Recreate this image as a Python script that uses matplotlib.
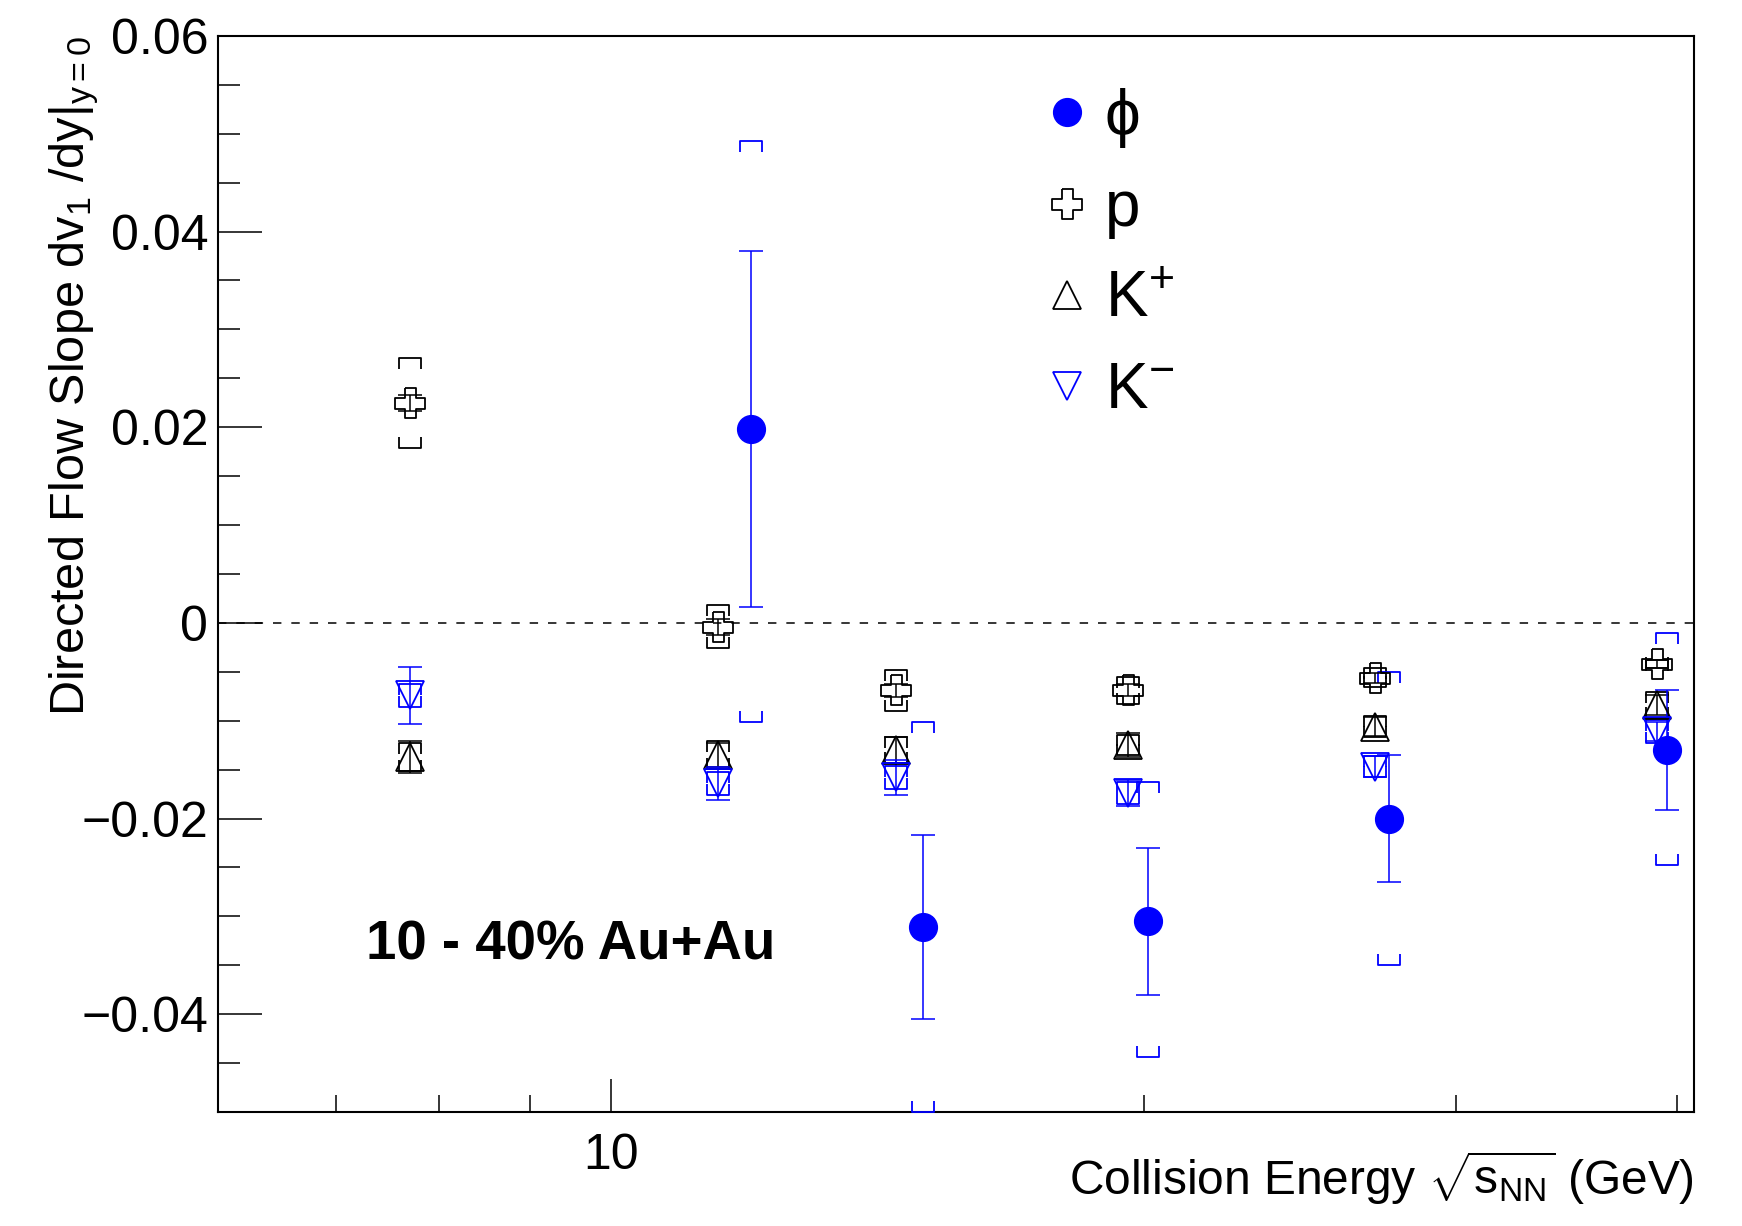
import numpy as np
import matplotlib
matplotlib.use('Agg')
import matplotlib.pyplot as plt
from matplotlib.path import Path

plt.rcParams['font.family'] = ['Liberation Sans', 'DejaVu Sans']
plt.rcParams['mathtext.fontset'] = 'custom'
plt.rcParams['mathtext.rm'] = 'Liberation Sans'
plt.rcParams['mathtext.it'] = 'Liberation Sans:italic'
plt.rcParams['mathtext.bf'] = 'Liberation Sans:bold'

# collision energies (GeV); phi points are drawn slightly shifted in x
energies = [7.7, 11.5, 14.5, 19.6, 27.0, 39.0]
phi_energies = [12.0, 15.0, 20.1, 27.5, 39.5]

# dv1/dy slopes
phi_v1 = [0.0198, -0.0311, -0.0305, -0.0200, -0.0130]
phi_stat = [0.0182, 0.0094, 0.0075, 0.0065, 0.0061]
phi_sys_hi = [0.0295, 0.0210, 0.0142, 0.0150, 0.0120]
phi_sys_lo = [0.0299, 0.0189, 0.0139, 0.0150, 0.0118]

p_v1 = [0.0225, -0.0004, -0.0069, -0.0069, -0.0056, -0.0042]
p_stat = [0.0008, 0.0008, 0.0007, 0.0006, 0.0005, 0.0004]
p_sys = [0.0046, 0.0022, 0.0021, 0.0014, 0.0010, 0.0004]

kp_v1 = [-0.0137, -0.0135, -0.0130, -0.0125, -0.0106, -0.0084]
kp_stat = [0.0016, 0.0012, 0.0013, 0.0012, 0.0010, 0.0010]
kp_sys = [0.0014, 0.0014, 0.0013, 0.0010, 0.0011, 0.0013]

km_v1 = [-0.0074, -0.0164, -0.0158, -0.0174, -0.0147, -0.0111]
km_stat = [0.0029, 0.0017, 0.0018, 0.0013, 0.0011, 0.0010]
km_sys = [0.0012, 0.0012, 0.0012, 0.0011, 0.0011, 0.0012]

ytick_vals = [-0.04, -0.02, 0.0, 0.02, 0.04, 0.06]
ytick_labels = ['\u22120.04', '\u22120.02', '0', '0.02', '0.04', '0.06']

BLUE = '#0000ff'

# ROOT-like marker shapes
bracket_top = Path([(-1, -1), (-1, 0), (1, 0), (1, -1)],
                   [Path.MOVETO, Path.LINETO, Path.LINETO, Path.LINETO])
bracket_bot = Path([(-1, 1), (-1, 0), (1, 0), (1, 1)],
                   [Path.MOVETO, Path.LINETO, Path.LINETO, Path.LINETO])
a = 0.36
open_cross = Path([(-a, 1), (a, 1), (a, a), (1, a), (1, -a), (a, -a), (a, -1),
                   (-a, -1), (-a, -a), (-1, -a), (-1, a), (-a, a), (-a, 1)])

fig = plt.figure(figsize=(17.42, 12.26), dpi=100)
ax = fig.add_axes([0.1251, 0.0930, 0.8473, 0.8777])


def sys_brackets(x, y, lo, hi, color):
    y = np.asarray(y)
    ax.plot(x, y + np.asarray(hi), ls='none', marker=bracket_top, ms=16.5,
            mfc='none', mec=color, mew=1.3, zorder=3)
    ax.plot(x, y - np.asarray(lo), ls='none', marker=bracket_bot, ms=16.5,
            mfc='none', mec=color, mew=1.3, zorder=3)


ax.axhline(0, color='black', lw=1.1, ls=(0, (5.5, 6.5)), zorder=1)

sys_brackets(energies, p_v1, p_sys, p_sys, 'black')
sys_brackets(energies, kp_v1, kp_sys, kp_sys, 'black')
sys_brackets(energies, km_v1, km_sys, km_sys, BLUE)
sys_brackets(phi_energies, phi_v1, phi_sys_lo, phi_sys_hi, BLUE)

ax.errorbar(energies, p_v1, yerr=p_stat, fmt='none', ecolor='black',
            elinewidth=1.1, capsize=8.3, capthick=1.1, zorder=4)
ax.errorbar(energies, kp_v1, yerr=kp_stat, fmt='none', ecolor='black',
            elinewidth=1.1, capsize=8.3, capthick=1.1, zorder=4)
ax.errorbar(energies, km_v1, yerr=km_stat, fmt='none', ecolor=BLUE,
            elinewidth=1.1, capsize=8.3, capthick=1.1, zorder=4)
ax.errorbar(phi_energies, phi_v1, yerr=phi_stat, fmt='none', ecolor=BLUE,
            elinewidth=1.1, capsize=8.3, capthick=1.1, zorder=4)

h_p, = ax.plot(energies, p_v1, ls='none', marker=open_cross, ms=22,
               mfc='none', mec='black', mew=1.3, zorder=5)
h_kp, = ax.plot(energies, kp_v1, ls='none', marker='^', ms=20,
                mfc='none', mec='black', mew=1.3, zorder=5)
h_km, = ax.plot(energies, km_v1, ls='none', marker='v', ms=20,
                mfc='none', mec=BLUE, mew=1.3, zorder=5)
h_phi, = ax.plot(phi_energies, phi_v1, ls='none', marker='o', ms=20,
                 color=BLUE, zorder=6)

ax.set_xscale('log')
ax.set_xlim(6.0, 40.9)
ax.set_ylim(-0.05, 0.06)

ax.set_xticks([10])
ax.set_xticklabels(['10'])
ax.set_xticks([7, 8, 9, 20, 30, 40], minor=True)
ax.xaxis.set_minor_formatter(matplotlib.ticker.NullFormatter())
ax.set_yticks(ytick_vals)
ax.set_yticklabels(ytick_labels)
ax.set_yticks(np.arange(-0.045, 0.06, 0.005), minor=True)

ax.tick_params(axis='both', which='both', direction='in', width=1.1,
               colors='black', labelsize=36)
ax.tick_params(axis='x', which='major', length=24, pad=15)
ax.tick_params(axis='x', which='minor', length=12)
ax.tick_params(axis='y', which='major', length=32, pad=7)
ax.tick_params(axis='y', which='minor', length=16)
ax.tick_params(top=False, right=False, which='both')
for s in ax.spines.values():
    s.set_linewidth(1.5)

ax.set_xlabel(r'Collision Energy $\sqrt{\mathrm{s}_{\mathrm{NN}}}$ (GeV)',
              fontsize=34.5, loc='right')
ax.xaxis.set_label_coords(1.0, -0.035)
ax.set_ylabel(r'Directed Flow Slope dv$_{1}$ /dy|$_{\mathrm{y=0}}$',
              fontsize=35, loc='top')
ax.yaxis.set_label_coords(-0.079, 1.0)

ax.text(0.100, 0.155, '10 - 40% Au+Au', transform=ax.transAxes,
        fontsize=39.3, fontweight='bold', va='center', ha='left')

leg = ax.legend([h_phi, h_p, h_kp, h_km],
                ['\u03d5', 'p', r'K$^{+}$', r'K$^{-}$'],
                loc='upper left', bbox_to_anchor=(0.562, 0.952),
                frameon=False, fontsize=46, handlelength=0.6,
                handletextpad=0.3, labelspacing=0.49,
                borderpad=0, borderaxespad=0)

fig.savefig('out.png', dpi=100)
